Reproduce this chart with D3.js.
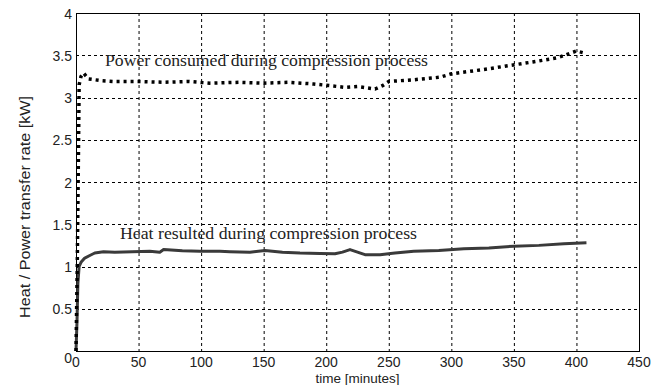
<!DOCTYPE html>
<html>
<head>
<meta charset="utf-8">
<script src="https://cdn.jsdelivr.net/npm/d3@7"></script>
<style>
  html, body { margin: 0; padding: 0; background: #ffffff; }
  svg { display: block; }
  .tick-label { font-family: "Liberation Sans", Arial, sans-serif; font-size: 14px; fill: #222; }
  .note { font-family: "Liberation Serif", "Times New Roman", serif; font-size: 16px; fill: #222; }
</style>
</head>
<body>
<svg id="chart"></svg>
<script>
// Power consumed during compression process [kW]
const powerTime = [0, 1, 2, 2.5, 4, 6, 10, 20, 30, 50, 70, 90, 107, 130, 150, 170, 190, 203, 215, 225, 239, 245, 250, 270, 291, 300, 315, 330, 347, 365, 385, 400, 408];
const powerValue = [0, 1.0, 2.4, 3.15, 3.25, 3.29, 3.22, 3.20, 3.19, 3.19, 3.18, 3.19, 3.17, 3.18, 3.17, 3.18, 3.16, 3.14, 3.12, 3.13, 3.10, 3.14, 3.19, 3.21, 3.24, 3.28, 3.31, 3.34, 3.38, 3.42, 3.47, 3.55, 3.52];

// Heat resulted during compression process [kW]
const heatTime = [0, 0.8, 1.5, 2.5, 4, 7, 11, 15, 22, 31, 45, 59, 67, 70, 85, 99, 115, 123, 139, 151, 165, 179, 195, 207, 213, 219, 225, 231, 243, 255, 270, 290, 310, 330, 350, 370, 390, 408];
const heatValue = [0, 0.35, 0.8, 1.0, 1.05, 1.10, 1.13, 1.16, 1.175, 1.17, 1.175, 1.18, 1.17, 1.20, 1.185, 1.18, 1.18, 1.175, 1.17, 1.19, 1.17, 1.16, 1.155, 1.15, 1.17, 1.20, 1.17, 1.14, 1.14, 1.16, 1.18, 1.19, 1.21, 1.22, 1.24, 1.25, 1.27, 1.28];

const xTicks = [0, 50, 100, 150, 200, 250, 300, 350, 400, 450];
const yTicks = [0, 0.5, 1, 1.5, 2, 2.5, 3, 3.5, 4];

const width = 661, height = 385;
const margin = { top: 13, right: 22, bottom: 34, left: 76 };
const chartWidth = width - margin.left - margin.right;
const chartHeight = height - margin.top - margin.bottom;

const svg = d3.select('#chart')
  .attr('width', width)
  .attr('height', height);

const g = svg.append('g')
  .attr('transform', `translate(${margin.left},${margin.top})`);

const xScale = d3.scaleLinear().domain([0, 450]).range([0, chartWidth]);
const yScale = d3.scaleLinear().domain([0, 4]).range([chartHeight, 0]);

// Grid lines (dashed)
g.append('g')
  .selectAll('line')
  .data(xTicks.slice(1, -1))
  .enter()
  .append('line')
  .attr('x1', d => xScale(d) + 0.5)
  .attr('x2', d => xScale(d) + 0.5)
  .attr('y1', 0)
  .attr('y2', chartHeight)
  .attr('stroke', '#000')
  .attr('stroke-width', 1)
  .attr('stroke-dasharray', '3,3');

g.append('g')
  .selectAll('line')
  .data(yTicks.slice(1, -1))
  .enter()
  .append('line')
  .attr('x1', 0)
  .attr('x2', chartWidth)
  .attr('y1', d => Math.round(yScale(d)) + 0.5)
  .attr('y2', d => Math.round(yScale(d)) + 0.5)
  .attr('stroke', '#000')
  .attr('stroke-width', 1)
  .attr('stroke-dasharray', '3,3');

// Axes box
g.append('rect')
  .attr('x', 0.5)
  .attr('y', 0.5)
  .attr('width', chartWidth)
  .attr('height', chartHeight)
  .attr('fill', 'none')
  .attr('stroke', '#000')
  .attr('stroke-width', 1);

// Tick labels
g.append('g')
  .selectAll('text')
  .data(xTicks)
  .enter()
  .append('text')
  .attr('class', 'tick-label')
  .attr('x', d => xScale(d))
  .attr('y', chartHeight + 16)
  .attr('text-anchor', 'middle')
  .text(d => d);

g.append('g')
  .selectAll('text')
  .data(yTicks)
  .enter()
  .append('text')
  .attr('class', 'tick-label')
  .attr('x', -4)
  .attr('y', d => d === 0 ? yScale(d) + 12 : yScale(d) + 5.5)
  .attr('text-anchor', 'end')
  .text(d => d);

// Series
const line = d3.line()
  .x(d => xScale(d[0]))
  .y(d => yScale(d[1]));

const heatData = heatTime.map((t, i) => [t, heatValue[i]]);
const powerData = powerTime.map((t, i) => [t, powerValue[i]]);

g.append('path')
  .datum(heatData)
  .attr('d', line)
  .attr('fill', 'none')
  .attr('stroke', '#3a3a3a')
  .attr('stroke-width', 3)
  .attr('stroke-linejoin', 'round');

g.append('path')
  .datum(powerData)
  .attr('d', line)
  .attr('fill', 'none')
  .attr('stroke', '#000')
  .attr('stroke-width', 3.5)
  .attr('stroke-dasharray', '3,4');

// Annotations
svg.append('text')
  .attr('class', 'note')
  .attr('x', 105)
  .attr('y', 66)
  .attr('textLength', 323)
  .attr('lengthAdjust', 'spacingAndGlyphs')
  .text('Power consumed during compression process');

svg.append('text')
  .attr('class', 'note')
  .attr('x', 120)
  .attr('y', 239)
  .attr('textLength', 297)
  .attr('lengthAdjust', 'spacingAndGlyphs')
  .text('Heat resulted during compression process');

// Axis labels
svg.append('text')
  .attr('class', 'tick-label')
  .attr('x', margin.left + chartWidth / 2)
  .attr('y', 383)
  .attr('text-anchor', 'middle')
  .style('font-size', '13.5px')
  .text('time [minutes]');

svg.append('text')
  .attr('class', 'tick-label')
  .attr('transform', 'translate(30,207) rotate(-90)')
  .attr('text-anchor', 'middle')
  .attr('textLength', 222)
  .attr('lengthAdjust', 'spacingAndGlyphs')
  .style('font-size', '15px')
  .text('Heat / Power transfer rate [kW]');
</script>
</body>
</html>
